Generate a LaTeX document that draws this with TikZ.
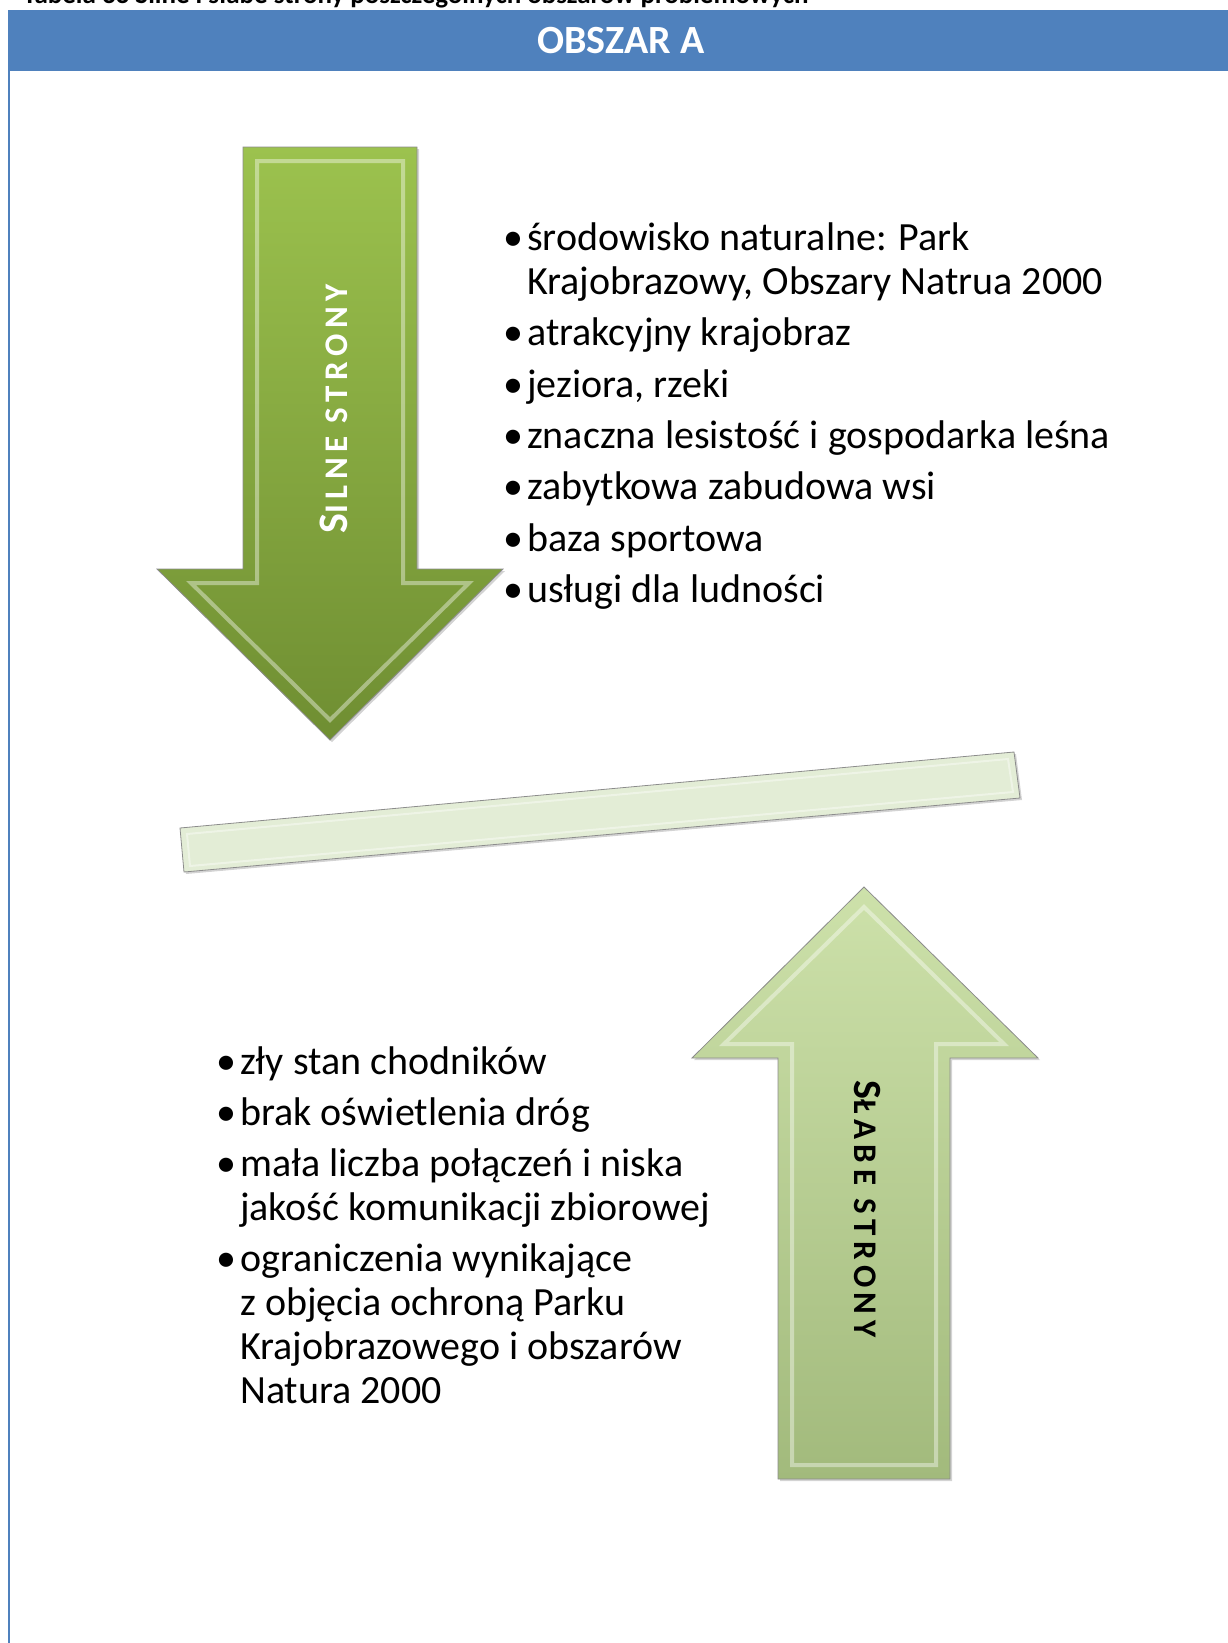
\documentclass[tikz,border=0pt]{standalone}
\usepackage{fontspec}
\setmainfont{Carlito}
\usetikzlibrary{shadows}
\definecolor{bandblue}{HTML}{4F81BD}
\definecolor{strongtop}{HTML}{9CC24E}
\definecolor{strongbot}{HTML}{6F8E32}
\definecolor{weaktop}{HTML}{CDE1AA}
\definecolor{weakbot}{HTML}{A2BA7C}
\definecolor{barfill}{HTML}{E3EDD6}
\newcommand{\itm}{\makebox[24pt][l]{•}}
\newcommand{\ind}{\hspace*{24pt}}

\begin{document}
\begin{tikzpicture}[x=1pt, y=-1pt,
  rim/.style={draw=black!45, line width=0.8pt, drop shadow={opacity=0.35, shadow xshift=2pt, shadow yshift=-2pt}},
  bevel/.style={draw=white, draw opacity=0.4, line width=4pt},
  listtext/.style={align=left, inner sep=0pt, anchor=north west, font=\fontsize{40}{44}\selectfont},
  sidelabel/.style={inner sep=0pt, font=\bfseries\addfontfeature{LetterSpace=17}}]
\useasboundingbox (0,0) rectangle (1228,1643);

% naglowek
\node[anchor=base west, inner sep=0pt, font=\bfseries\fontsize{27}{27}\selectfont](caption) at (23,4) {Tabela 33 Silne i słabe strony poszczególnych obszarów problemowych};
\fill[bandblue] (8,10.5) rectangle (1228,71);
\node[text=white, font=\bfseries\fontsize{40}{40}\selectfont](obszar) at (621,41) {OBSZAR A};
\draw[bandblue, line width=2.5pt] (9,71) -- (9,1643);

% silne strony
\path[rim, top color=strongtop, bottom color=strongbot] (243,147) -- (417,147) -- (417,569) -- (503,569) -- (330,740) -- (157,569) -- (243,569) -- cycle;
\draw[bevel] (257,161) -- (403,161) -- (403,583) -- (469,583) -- (330,720) -- (191,583) -- (257,583) -- cycle;
\node[sidelabel, rotate=90, text=white](silne) at (334,409) {{\fontsize{42}{42}\selectfont S}\fontsize{33}{33}\selectfont ILNE STRONY};
\node[listtext](strong) at (503,219.5) {\strut\itm środowisko naturalne: Park\\
  \ind Krajobrazowy, Obszary Natrua 2000\\[7.3pt]
  \itm atrakcyjny krajobraz\\[7.3pt]
  \itm jeziora, rzeki\\[7.3pt]
  \itm znaczna lesistość i gospodarka leśna\\[7.3pt]
  \itm zabytkowa zabudowa wsi\\[7.3pt]
  \itm baza sportowa\\[7.3pt]
  \itm usługi dla ludności};

% belka
\path[rim, fill=barfill] (180,828) -- (1014,752) -- (1020,798) -- (184,872) -- cycle;
\draw[bevel, line width=2pt] (187,834) -- (1008,759) -- (1013,792) -- (190,866) -- cycle;

% slabe strony
\path[rim, top color=weaktop, bottom color=weakbot] (864,887) -- (1038,1058) -- (950,1058) -- (950,1479) -- (778,1479) -- (778,1058) -- (692,1058) -- cycle;
\draw[bevel] (864,907) -- (1004,1044) -- (936,1044) -- (936,1465) -- (792,1465) -- (792,1044) -- (724,1044) -- cycle;
\node[sidelabel, rotate=-90](slabe) at (867,1209) {{\fontsize{40}{40}\selectfont S}\fontsize{33}{33}\selectfont ŁABE STRONY};
\node[listtext](weak) at (216,1043) {\strut\itm zły stan chodników\\[7.3pt]
  \itm brak oświetlenia dróg\\[7.3pt]
  \itm mała liczba połączeń i niska\\
  \ind jakość komunikacji zbiorowej\\[7.3pt]
  \itm ograniczenia wynikające\\
  \ind z objęcia ochroną Parku\\
  \ind Krajobrazowego i obszarów\\
  \ind Natura 2000};
\end{tikzpicture}
\end{document}
